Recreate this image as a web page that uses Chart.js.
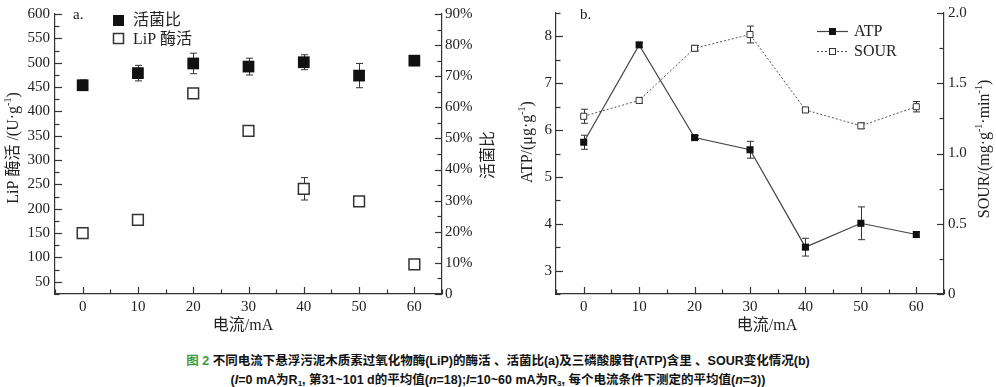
<!DOCTYPE html>
<html>
<head>
<meta charset="utf-8">
<script src="https://cdn.jsdelivr.net/npm/chart.js@4.4.0/dist/chart.umd.min.js"></script>
<style>
  body { margin: 0; background: #fff; width: 996px; height: 387px; position: relative; overflow: hidden; }
  canvas { position: absolute; top: 0; }
  #chartA { left: 0; }
  #chartB { left: 500px; }
  .caption {
    position: absolute; left: 0; width: 996px; text-align: center;
    font: bold 12.5px "Liberation Sans", "Noto Sans CJK SC", sans-serif; color: #111;
  }
  .caption .fig { color: #3d9a3d; }
  .caption sub { font-size: 8px; vertical-align: -2px; line-height: 0; }
</style>
</head>
<body>
<canvas id="chartA" width="500" height="340"></canvas>
<canvas id="chartB" width="496" height="340"></canvas>
<div class="caption" style="top:350px"><span class="fig">图 2</span> 不同电流下悬浮污泥木质素过氧化物酶(LiP)的酶活 、活菌比(a)及三磷酸腺苷(ATP)含里 、SOUR变化情况(b)</div>
<div class="caption" style="top:369px">(<i>I</i>=0 mA为R<sub>1</sub>, 第31~101 d的平均值(<i>n</i>=18);<i>I</i>=10~60 mA为R<sub>3</sub>, 每个电流条件下测定的平均值(<i>n</i>=3))</div>
<script>
// current (mA) on x axis
const currents = [0, 10, 20, 30, 40, 50, 60];

// panel a
const viableRatio = [67.1, 71.0, 74.1, 73.1, 74.5, 70.2, 75.0];   // 活菌比 %
const viableErr = [1.7, 2.5, 3.3, 2.7, 2.4, 3.9, 0.8];
const lipActivity = [150, 177, 437, 360, 241, 215, 86];            // LiP 酶活 U/g
const lipErr = [4, 4, 6, 5, 23, 5, 4];
const lipTicks = [50, 100, 150, 200, 250, 300, 350, 400, 450, 500, 550, 600];
const ratioTicks = [0, 10, 20, 30, 40, 50, 60, 70, 80, 90];

// panel b
const atp = [5.74, 7.82, 5.84, 5.58, 3.50, 4.01, 3.77];
const atpErr = [0.15, 0.05, 0.04, 0.18, 0.19, 0.35, 0.06];
const sour = [1.265, 1.378, 1.749, 1.847, 1.31, 1.197, 1.333];
const sourErr = [0.05, 0.02, 0.02, 0.06, 0.015, 0.02, 0.037];
const atpTicks = [3, 4, 5, 6, 7, 8];
const sourTicks = [0, 0.5, 1.0, 1.5, 2.0];
const xTicks = [0, 10, 20, 30, 40, 50, 60];

const INK = "#222";
const AXIS = "#333";
const SERIF = '"Liberation Serif", "Noto Sans CJK SC", serif';

const pts = (ys) => currents.map((c, i) => ({ x: c, y: ys[i] }));

// draw text made of pieces, some as superscript
function richText(ctx, parts, x, y, size, rot) {
  ctx.save();
  ctx.translate(x, y);
  ctx.rotate(rot || 0);
  ctx.fillStyle = INK;
  ctx.textBaseline = "middle";
  let w = 0;
  parts.forEach(p => {
    ctx.font = (p.sup ? Math.round(size * 0.62) : size) + "px " + SERIF;
    p.w = ctx.measureText(p.t).width;
    w += p.w;
  });
  let cx = -w / 2;
  parts.forEach(p => {
    ctx.font = (p.sup ? Math.round(size * 0.62) : size) + "px " + SERIF;
    ctx.fillText(p.t, cx, p.sup ? -size * 0.35 : 0);
    cx += p.w;
  });
  ctx.restore();
}

// inward ticks, major + minor (halfway)
function inTicks(chart, id, major, side) {
  const s = chart.scales[id];
  const ctx = chart.ctx;
  const a = chart.chartArea;
  const vals = [];
  major.forEach((v, i) => {
    vals.push([v, 7]);
    if (i < major.length - 1) vals.push([(v + major[i + 1]) / 2, 4.5]);
  });
  // one extra minor below / above
  const st = major[1] - major[0];
  vals.push([major[0] - st / 2, 4.5]);
  vals.push([major[major.length - 1] + st / 2, 4.5]);
  ctx.save();
  ctx.strokeStyle = AXIS;
  ctx.lineWidth = 1.2;
  vals.forEach(([v, len]) => {
    if (v < s.min || v > s.max) return;
    const p = Math.round(s.getPixelForValue(v)) + 0.5;
    ctx.beginPath();
    if (side === "left") { ctx.moveTo(a.left, p); ctx.lineTo(a.left + len, p); }
    else if (side === "right") { ctx.moveTo(a.right, p); ctx.lineTo(a.right - len, p); }
    else { ctx.moveTo(p, a.bottom); ctx.lineTo(p, a.bottom - len); }
    ctx.stroke();
  });
  ctx.restore();
}

function errorBars(chart, idx, errs, cap) {
  const ds = chart.data.datasets[idx];
  const ys = chart.scales[ds.yAxisID];
  const xs = chart.scales.x;
  const ctx = chart.ctx;
  ctx.save();
  ctx.strokeStyle = AXIS;
  ctx.lineWidth = 1;
  ds.data.forEach((d, j) => {
    const x = Math.round(xs.getPixelForValue(d.x)) + 0.5;
    const t = ys.getPixelForValue(d.y + errs[j]);
    const b = ys.getPixelForValue(d.y - errs[j]);
    ctx.beginPath();
    ctx.moveTo(x, t); ctx.lineTo(x, b);
    ctx.moveTo(x - cap, t); ctx.lineTo(x + cap, t);
    ctx.moveTo(x - cap, b); ctx.lineTo(x + cap, b);
    ctx.stroke();
  });
  ctx.restore();
}

function axisOpts(pos, min, max, tickVals, width, fmt, pad) {
  return {
    type: "linear", position: pos, min: min, max: max,
    afterBuildTicks: s => { s.ticks = tickVals.map(v => ({ value: v })); },
    afterFit: s => { if (pos === "bottom") s.height = width; else s.width = width; },
    grid: { drawOnChartArea: false, drawTicks: false },
    border: { display: true, color: AXIS, width: 1.2 },
    ticks: {
      color: INK, padding: pad, font: { family: SERIF, size: 15 },
      autoSkip: false, maxRotation: 0,
      callback: fmt || (v => v)
    }
  };
}

// ---------- panel a ----------
new Chart(document.getElementById("chartA"), {
  type: "scatter",
  data: {
    datasets: [
      {
        label: "活菌比", data: pts(viableRatio), yAxisID: "yR",
        pointStyle: "rect", pointRadius: 8.3, pointHoverRadius: 8.3,
        backgroundColor: "#111", borderColor: "#111", borderWidth: 0
      },
      {
        label: "LiP 酶活", data: pts(lipActivity), yAxisID: "yL",
        pointStyle: "rect", pointRadius: 7.6, pointHoverRadius: 7.6,
        backgroundColor: "#fff", borderColor: "#333", borderWidth: 1.5
      }
    ]
  },
  options: {
    responsive: false, animation: false, devicePixelRatio: 1,
    layout: { padding: { top: 10, left: 0, right: 0, bottom: 0 } },
    plugins: { legend: { display: false }, tooltip: { enabled: false } },
    scales: {
      x: axisOpts("bottom", -5, 65, xTicks, 46, null, 4),
      yL: axisOpts("left", 25, 600, lipTicks, 55, null, 5),
      yR: axisOpts("right", 0, 90, ratioTicks, 58, v => v === 0 ? "0" : v + "%", 3)
    }
  },
  plugins: [{
    id: "decorA",
    beforeDatasetsDraw(chart) {
      errorBars(chart, 0, viableErr, 3.5);
      errorBars(chart, 1, lipErr, 3.5);
    },
    afterDraw(chart) {
      const ctx = chart.ctx, a = chart.chartArea;
      inTicks(chart, "yL", lipTicks, "left");
      inTicks(chart, "yR", ratioTicks, "right");
      inTicks(chart, "x", xTicks, "bottom");
      ctx.save();
      ctx.fillStyle = INK;
      ctx.font = "15px " + SERIF;
      ctx.textBaseline = "middle";
      ctx.fillText("a.", a.left + 18, 15);
      // legend
      ctx.fillStyle = "#111";
      ctx.fillRect(a.left + 58, 15, 11, 11);
      ctx.strokeStyle = "#333"; ctx.lineWidth = 1.5;
      ctx.strokeRect(a.left + 58.5, 33.5, 10, 10);
      ctx.fillStyle = INK;
      ctx.font = "16px " + SERIF;
      ctx.fillText("活菌比", a.left + 78, 21);
      ctx.fillText("LiP 酶活", a.left + 78, 40);
      ctx.restore();
      richText(ctx, [{ t: "LiP 酶活 /(U·g" }, { t: "-1", sup: true }, { t: ")" }], 14, 148, 16, -Math.PI / 2);
      richText(ctx, [{ t: "活菌比" }], 489, 155, 16, -Math.PI / 2);
      richText(ctx, [{ t: "电流/mA" }], 243, 326, 16, 0);
    }
  }]
});

// ---------- panel b ----------
new Chart(document.getElementById("chartB"), {
  type: "line",
  data: {
    datasets: [
      {
        label: "ATP", data: pts(atp), yAxisID: "yL",
        borderColor: "#444", borderWidth: 1.2, tension: 0,
        pointStyle: "rect", pointRadius: 5, pointHoverRadius: 5,
        pointBackgroundColor: "#111", pointBorderColor: "#111", pointBorderWidth: 0
      },
      {
        label: "SOUR", data: pts(sour), yAxisID: "yR",
        borderColor: "#555", borderWidth: 1, borderDash: [2, 2], tension: 0,
        pointStyle: "rect", pointRadius: 4.3, pointHoverRadius: 4.3,
        pointBackgroundColor: "#fff", pointBorderColor: "#333", pointBorderWidth: 1
      }
    ]
  },
  options: {
    responsive: false, animation: false, devicePixelRatio: 1,
    layout: { padding: { top: 10, left: 0, right: 0, bottom: 0 } },
    plugins: { legend: { display: false }, tooltip: { enabled: false } },
    scales: {
      x: axisOpts("bottom", -5, 65, xTicks, 46, null, 4),
      yL: axisOpts("left", 2.5, 8.5, atpTicks, 56, null, 4),
      yR: axisOpts("right", 0, 2.0, sourTicks, 52, v => v === 0 ? "0" : v.toFixed(1), 4)
    }
  },
  plugins: [{
    id: "decorB",
    beforeDatasetsDraw(chart) {
      errorBars(chart, 0, atpErr, 3.5);
      errorBars(chart, 1, sourErr, 3.5);
    },
    afterDraw(chart) {
      const ctx = chart.ctx, a = chart.chartArea;
      inTicks(chart, "yL", atpTicks, "left");
      inTicks(chart, "yR", sourTicks, "right");
      inTicks(chart, "x", xTicks, "bottom");
      ctx.save();
      ctx.fillStyle = INK;
      ctx.font = "15px " + SERIF;
      ctx.textBaseline = "middle";
      ctx.fillText("b.", a.left + 24, 15);
      // legend
      const lx = a.left + 261;
      ctx.strokeStyle = "#444"; ctx.lineWidth = 1.2;
      ctx.beginPath(); ctx.moveTo(lx, 31.5); ctx.lineTo(lx + 31, 31.5); ctx.stroke();
      ctx.fillStyle = "#111";
      ctx.fillRect(lx + 12, 28, 7, 7);
      ctx.strokeStyle = "#555"; ctx.lineWidth = 1; ctx.setLineDash([2, 2]);
      ctx.beginPath(); ctx.moveTo(lx, 51.5); ctx.lineTo(lx + 31, 51.5); ctx.stroke();
      ctx.setLineDash([]);
      ctx.fillStyle = "#fff"; ctx.fillRect(lx + 12.5, 48.5, 6, 6);
      ctx.strokeStyle = "#333"; ctx.strokeRect(lx + 12.5, 48.5, 6, 6);
      ctx.fillStyle = INK;
      ctx.font = "16px " + SERIF;
      ctx.fillText("ATP", lx + 37, 32);
      ctx.fillText("SOUR", lx + 37, 52);
      ctx.restore();
      richText(ctx, [{ t: "ATP/(μg·g" }, { t: "-1", sup: true }, { t: ")" }], 28, 142, 16, -Math.PI / 2);
      richText(ctx, [{ t: "SOUR/(mg·g" }, { t: "-1", sup: true }, { t: "·min" }, { t: "-1", sup: true }, { t: ")" }], 485, 149, 16, -Math.PI / 2);
      richText(ctx, [{ t: "电流/mA" }], 267, 326, 16, 0);
    }
  }]
});
</script>
</body>
</html>
